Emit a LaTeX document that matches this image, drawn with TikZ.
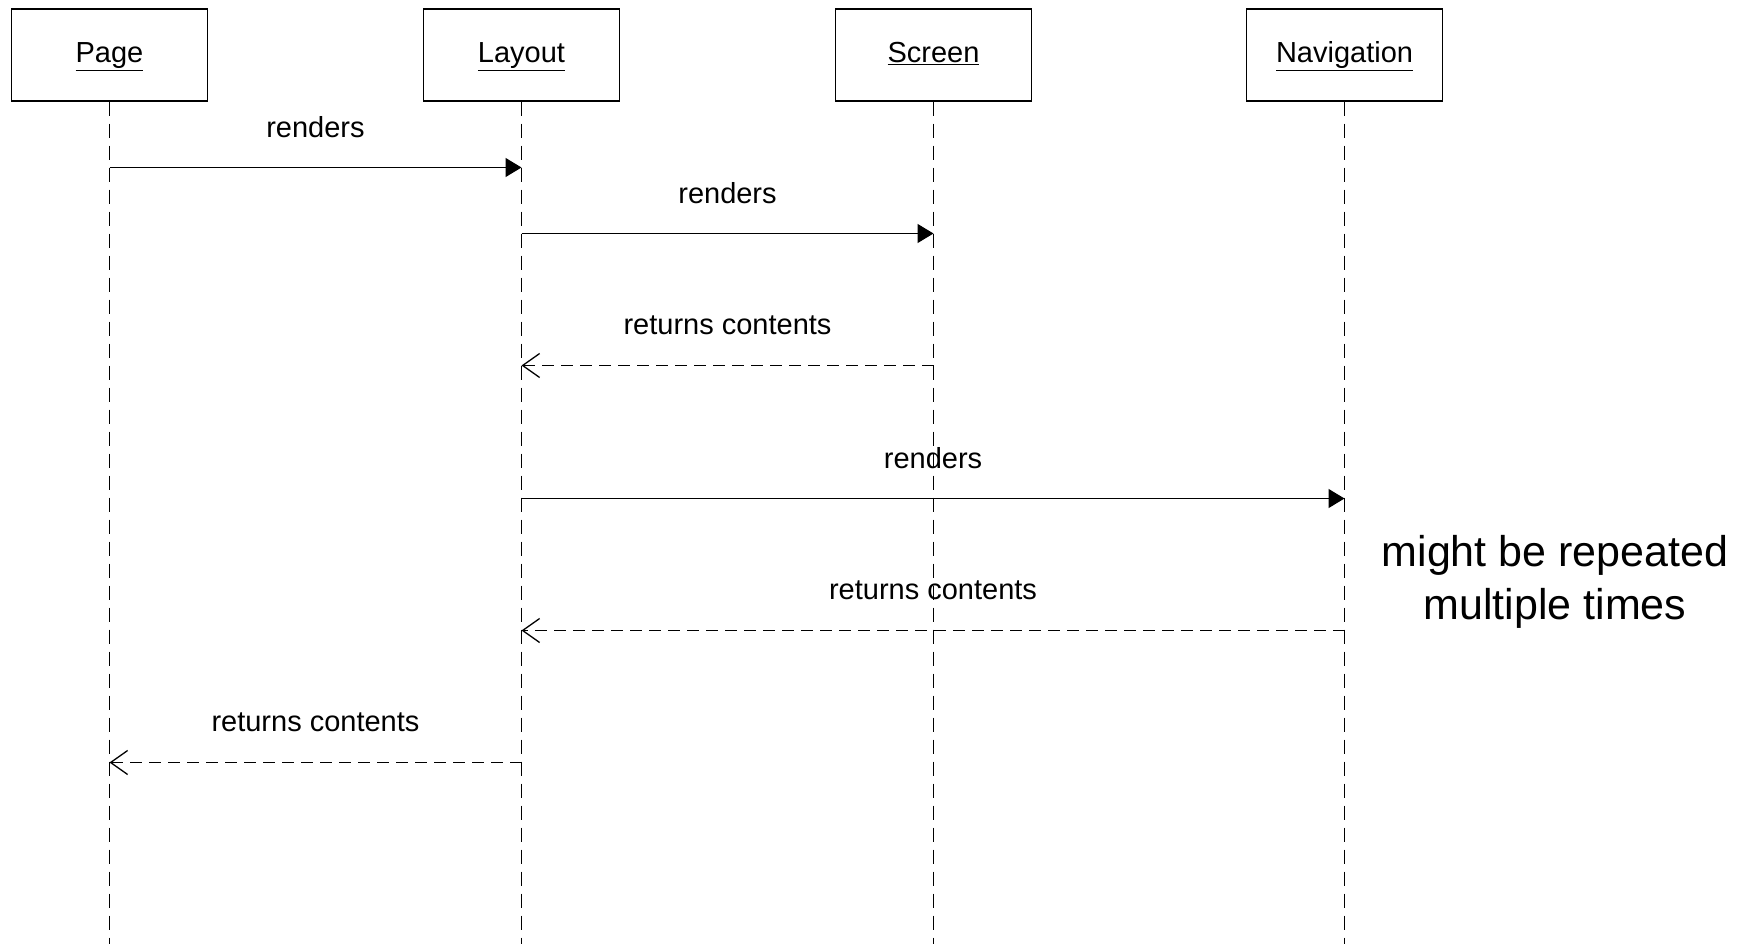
\documentclass[tikz,border=0pt]{standalone}
\usepackage{fontspec}
\setmainfont{Liberation Sans}
\usetikzlibrary{arrows.meta}
\begin{document}
\begin{tikzpicture}[x=1pt,y=-1pt,
  every node/.style={font=\fontsize{29}{34}\selectfont},
  obj/.style={draw, line width=1.3pt, minimum width=196pt, minimum height=92pt, inner sep=0pt, text height=21pt, text depth=5pt},
  life/.style={line width=1.3pt, dash pattern=on 14pt off 8pt},
  call/.style={line width=1.3pt, -{Triangle[length=16pt,width=19pt]}},
  ret/.style={line width=1.3pt, dash pattern=on 12pt off 7pt, -{Straight Barb[length=17pt,width=24pt,line width=1.3pt]}},
  lbl/.style={midway, yshift=40pt, inner sep=0pt},
  note/.style={font=\fontsize{43}{53}\selectfont, align=center, inner sep=0pt}]
\useasboundingbox (0,0) rectangle (1742,944);
\fill[white] (0,0) rectangle (1742,944);
% objects
\node[obj] (page) at (109.5,55) {\underline{Page}};
\node[obj] (layout) at (521.5,55) {\underline{Layout}};
\node[obj] (screen) at (933.5,55) {\underline{Screen}};
\node[obj] (nav) at (1344.5,55) {\underline{Navigation}};
% lifeline ends
\coordinate (pageE) at (109.5,944);
\coordinate (layoutE) at (521.5,944);
\coordinate (screenE) at (933.5,944);
\coordinate (navE) at (1344.5,944);
\draw[life] (page.south) -- (pageE);
\draw[life] (layout.south) -- (layoutE);
\draw[life] (screen.south) -- (screenE);
\draw[life] (nav.south) -- (navE);
% message points
\coordinate (m1a) at (109.5,167.5);
\coordinate (m1b) at (521.5,167.5);
\coordinate (m2a) at (521.5,233.5);
\coordinate (m2b) at (933.5,233.5);
\coordinate (m3a) at (933.5,365.5);
\coordinate (m3b) at (521.5,365.5);
\coordinate (m4a) at (521.5,498.5);
\coordinate (m4b) at (1344.5,498.5);
\coordinate (m5a) at (1344.5,630.5);
\coordinate (m5b) at (521.5,630.5);
\coordinate (m6a) at (521.5,762.5);
\coordinate (m6b) at (109.5,762.5);
\draw[call] (m1a) -- node[lbl]{renders} (m1b);
\draw[call] (m2a) -- node[lbl]{renders} (m2b);
\draw[ret] (m3a) -- node[lbl]{returns contents} (m3b);
\draw[call] (m4a) -- node[lbl]{renders} (m4b);
\draw[ret] (m5a) -- node[lbl]{returns contents} (m5b);
\draw[ret] (m6a) -- node[lbl]{returns contents} (m6b);
% note
\node[note] (rep) at (1555,582) {might be repeated\\multiple times};
\end{tikzpicture}
\end{document}
